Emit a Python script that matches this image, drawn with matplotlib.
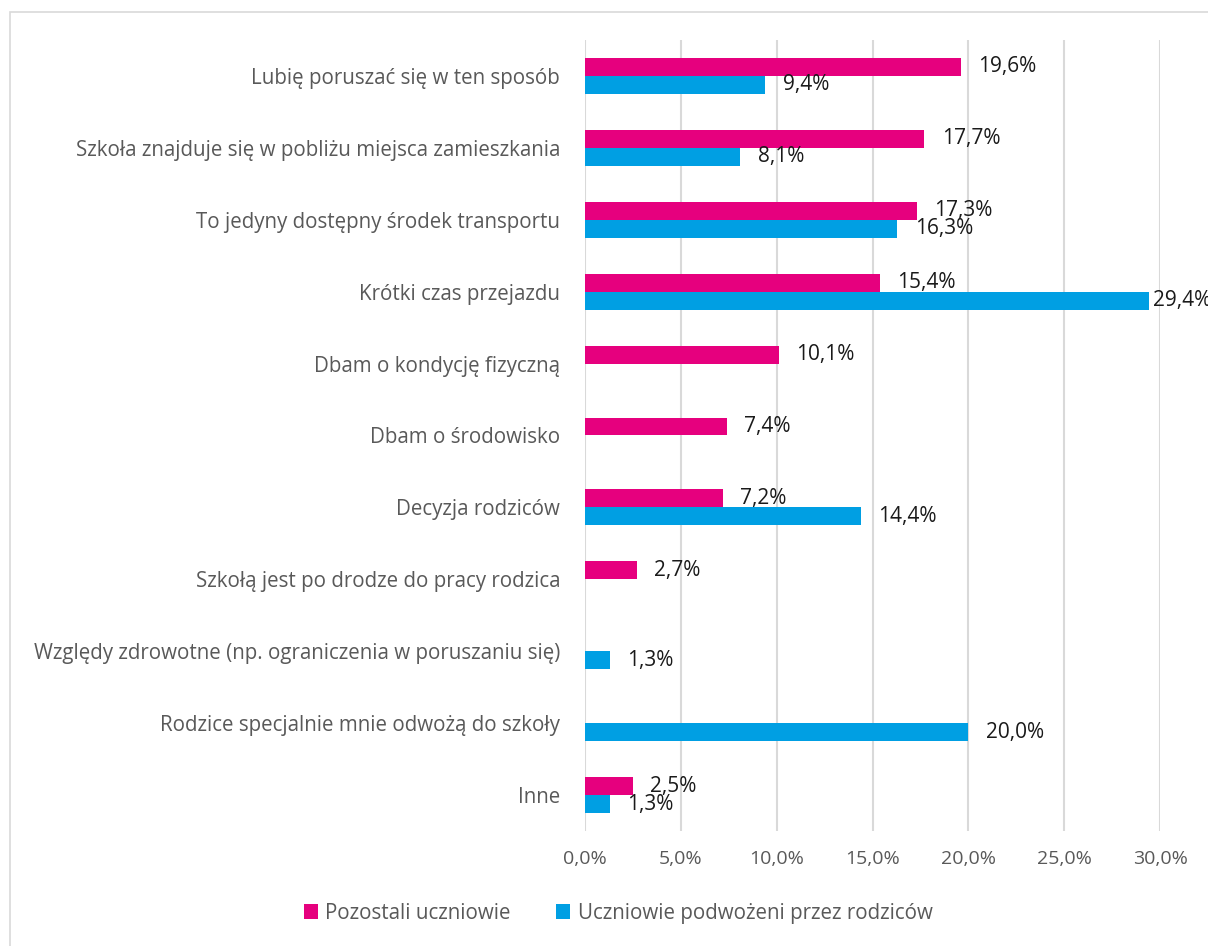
import numpy as np
import matplotlib
matplotlib.use("Agg")
from matplotlib import pyplot as plt
from matplotlib.patches import Rectangle

# data (percent)
categories = [
    "Lubię poruszać się w ten sposób",
    "Szkoła znajduje się w pobliżu miejsca zamieszkania",
    "To jedyny dostępny środek transportu",
    "Krótki czas przejazdu",
    "Dbam o kondycję fizyczną",
    "Dbam o środowisko",
    "Decyzja rodziców",
    "Szkołą jest po drodze do pracy rodzica",
    "Względy zdrowotne (np. ograniczenia w poruszaniu się)",
    "Rodzice specjalnie mnie odwożą do szkoły",
    "Inne",
]
pozostali = [19.6, 17.7, 17.3, 15.4, 10.1, 7.4, 7.2, 2.7, np.nan, np.nan, 2.5]
podwozeni = [9.4, 8.1, 16.3, 29.4, np.nan, np.nan, 14.4, np.nan, 1.3, 20.0, 1.3]
series_names = ["Pozostali uczniowie", "Uczniowie podwożeni przez rodziców"]
x_ticks = [0, 5, 10, 15, 20, 25, 30]

MAGENTA = "#E6007E"
BLUE = "#009FE3"
GRID = "#D9D9D9"
TEXT_GRAY = "#595959"

plt.rcParams["font.family"] = ["Open Sans", "DejaVu Sans"]

fig = plt.figure(figsize=(12.08, 9.46), dpi=100)
ax = fig.add_axes([585 / 1208, 115 / 946, 575 / 1208, 791 / 946])

# chart area border
fig.patches.append(Rectangle((10 / 1208, -0.1), 1.2, (946 - 12) / 946 + 0.1,
                             transform=fig.transFigure, fill=False,
                             edgecolor=GRID, linewidth=1.2))

y = np.arange(len(categories))
h = 0.25
ax.barh(y - h / 2, pozostali, height=h, color=MAGENTA, label=series_names[0], zorder=3)
ax.barh(y + h / 2, podwozeni, height=h, color=BLUE, label=series_names[1], zorder=3)


def fmt(v):
    return f"{v:.1f}%".replace(".", ",")


# data labels
for vals, dy in [(pozostali, -h / 2), (podwozeni, h / 2)]:
    for i, v in enumerate(vals):
        if np.isnan(v):
            continue
        off = 3.5 if v > 28 else 12.5
        ax.annotate(fmt(v), (v, i + dy), xytext=(off, 0), textcoords="offset points",
                    va="center", ha="left", fontsize=15, color="#1a1a1a",
                    annotation_clip=False, zorder=4)

ax.set_xlim(0, 30)
ax.set_ylim(len(categories) - 0.5, -0.5)
ax.set_xticks(x_ticks)
ax.set_xticklabels([fmt(t) for t in x_ticks], color=TEXT_GRAY, fontsize=14)
ax.set_yticks(y)
ax.set_yticklabels(categories, color=TEXT_GRAY, fontsize=14.8)
ax.tick_params(axis="both", length=0)
ax.tick_params(axis="y", pad=18)
ax.tick_params(axis="x", pad=14)
ax.grid(axis="x", color=GRID, linewidth=1.5, zorder=0)
for s in ax.spines.values():
    s.set_visible(False)

leg = fig.legend(loc="center", bbox_to_anchor=(618 / 1208, 1 - 913 / 946), ncol=2,
                 frameon=False, fontsize=14.8, handlelength=0.7, handleheight=0.7,
                 handletextpad=0.35, columnspacing=2.2)
for t in leg.get_texts():
    t.set_color(TEXT_GRAY)

fig.savefig("out.png", dpi=100)
